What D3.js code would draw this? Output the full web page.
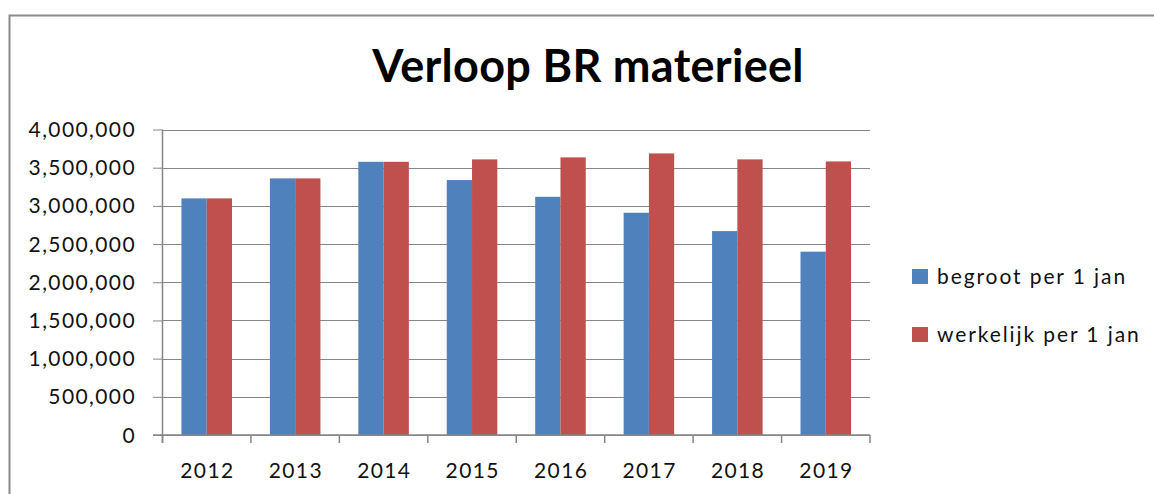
<!DOCTYPE html>
<html>
<head>
<meta charset="utf-8">
<script src="https://cdn.jsdelivr.net/npm/d3@7"></script>
<style>
  html, body { margin: 0; padding: 0; background: #fff; }
  svg { display: block; }
  text { font-family: Lato, "Open Sans", sans-serif; fill: #111; }
</style>
</head>
<body>
<div id="chart"></div>
<script>
const years = ['2012', '2013', '2014', '2015', '2016', '2017', '2018', '2019'];
const begroot = [3098000, 3360000, 3577000, 3338000, 3119000, 2910000, 2670000, 2400000];
const werkelijk = [3098000, 3360000, 3577000, 3609000, 3635000, 3687000, 3609000, 3582000];
const seriesNames = ['begroot per 1 jan', 'werkelijk per 1 jan'];
const seriesColors = ['#4F81BD', '#C0504D'];
const yTicks = [0, 500000, 1000000, 1500000, 2000000, 2500000, 3000000, 3500000, 4000000];

const W = 1154, H = 494;
const plot = { left: 162.5, right: 870, top: 129.5, bottom: 435 };

const svg = d3.select('#chart').append('svg')
  .attr('width', W).attr('height', H);

// chart frame (runs off the right and bottom edge)
svg.append('rect')
  .attr('x', 9.5).attr('y', 15.5)
  .attr('width', W + 20).attr('height', H + 20)
  .attr('fill', '#fff').attr('stroke', '#8a8a8a').attr('stroke-width', 2);

const x = d3.scaleBand().domain(years).range([plot.left, plot.right]).padding(0);
const xs = d3.scaleBand().domain(seriesNames).range([0, x.bandwidth()])
  .paddingInner(0).paddingOuter(0.75);
const y = d3.scaleLinear().domain([0, 4000000]).range([plot.bottom, plot.top]);

const fmt = d3.format(',');

// title
svg.append('text')
  .attr('x', 588).attr('y', 82)
  .attr('text-anchor', 'middle')
  .style('font-size', '45px').style('font-weight', 'bold')
  .style('letter-spacing', '0.3px')
  .style('fill', '#000')
  .text('Verloop BR materieel');

// y ticks
const yAxis = svg.append('g')
  .attr('transform', `translate(${plot.left},0)`)
  .call(d3.axisLeft(y).tickValues(yTicks).tickSize(9.5).tickPadding(0).tickFormat(''));
yAxis.selectAll('line').attr('stroke', '#868686');
yAxis.select('.domain').remove();

// gridlines
svg.append('g')
  .selectAll('line')
  .data(yTicks)
  .join('line')
  .attr('x1', plot.left).attr('x2', plot.right)
  .attr('y1', d => Math.round(y(d)) + 0.5).attr('y2', d => Math.round(y(d)) + 0.5)
  .attr('stroke', '#868686').attr('stroke-width', 1.2);

svg.append('g')
  .selectAll('text')
  .data(yTicks)
  .join('text')
  .attr('x', 136).attr('y', d => y(d))
  .attr('dy', '0.36em')
  .attr('text-anchor', 'end')
  .style('font-size', '21px').style('letter-spacing', '1.4px')
  .text(d => fmt(d));

// bars
const rows = years.map((yr, i) => ({ year: yr, values: [begroot[i], werkelijk[i]] }));
const groups = svg.append('g').selectAll('g')
  .data(rows)
  .join('g')
  .attr('transform', d => `translate(${x(d.year)},0)`);

groups.selectAll('rect')
  .data(d => d.values.map((v, k) => ({ key: seriesNames[k], value: v, color: seriesColors[k] })))
  .join('rect')
  .attr('x', d => xs(d.key))
  .attr('y', d => y(d.value))
  .attr('width', xs.bandwidth())
  .attr('height', d => y(0) - y(d.value))
  .attr('fill', d => d.color);

// axis lines
svg.append('line')
  .attr('x1', plot.left).attr('x2', plot.left)
  .attr('y1', plot.top).attr('y2', plot.bottom + 8)
  .attr('stroke', '#868686').attr('stroke-width', 1.5);

svg.append('line')
  .attr('x1', plot.left - 9.5).attr('x2', plot.right)
  .attr('y1', plot.bottom).attr('y2', plot.bottom)
  .attr('stroke', '#868686').attr('stroke-width', 1.5);

// x category boundary ticks
const bounds = years.map(d => x(d)).concat([plot.right]);
svg.append('g').selectAll('line')
  .data(bounds)
  .join('line')
  .attr('x1', d => d).attr('x2', d => d)
  .attr('y1', plot.bottom).attr('y2', plot.bottom + 8)
  .attr('stroke', '#868686').attr('stroke-width', 1.5);

svg.append('g').selectAll('text')
  .data(years)
  .join('text')
  .attr('x', d => x(d) + x.bandwidth() / 2 + 0.7)
  .attr('y', 478)
  .attr('text-anchor', 'middle')
  .style('font-size', '21px').style('letter-spacing', '1.4px')
  .text(d => d);

// legend
const legend = svg.append('g').selectAll('g')
  .data(seriesNames)
  .join('g')
  .attr('transform', (d, i) => `translate(912,${276.5 + i * 58})`);

legend.append('rect')
  .attr('x', 0).attr('y', -7.5)
  .attr('width', 16).attr('height', 15)
  .attr('fill', (d, i) => seriesColors[i]);

legend.append('text')
  .attr('x', 25).attr('y', 0).attr('dy', '0.36em')
  .style('font-size', '21px').style('letter-spacing', '1.9px')
  .text(d => d);
</script>
</body>
</html>
